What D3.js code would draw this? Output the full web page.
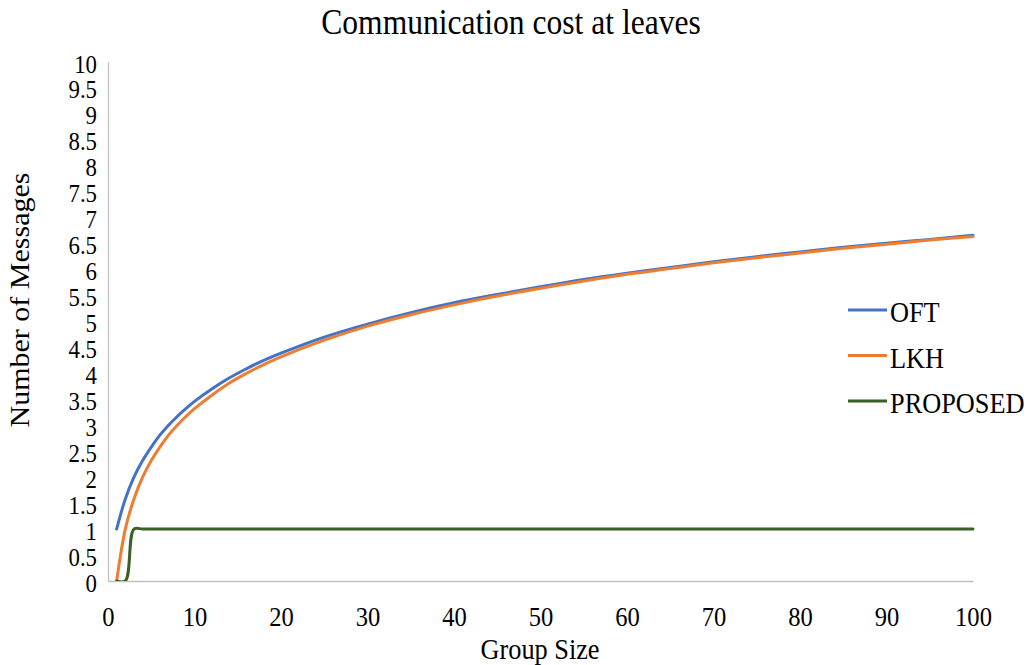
<!DOCTYPE html>
<html>
<head>
<meta charset="utf-8">
<script src="https://cdn.jsdelivr.net/npm/d3@7"></script>
<style>
  html, body { margin: 0; padding: 0; background: #fff; }
  svg text { font-family: "Liberation Serif", "Times New Roman", serif; fill: #000; }
</style>
</head>
<body>
<svg id="chart" width="1031" height="665"></svg>
<script>
// Group sizes sampled along each curve
const groupSizes = [1, 2, 3, 4, 5, 6, 7, 8, 9, 10, 12, 14, 16, 18, 20, 25, 30, 35, 40, 45, 50, 55, 60, 65, 70, 75, 80, 85, 90, 95, 100];

// Number of messages per scheme
const oftValues = [1.0, 1.58, 2.0, 2.32, 2.58, 2.81, 3.0, 3.17, 3.32, 3.46, 3.70, 3.91, 4.09, 4.25, 4.39, 4.70, 4.95, 5.17, 5.36, 5.52, 5.67, 5.81, 5.93, 6.04, 6.15, 6.25, 6.34, 6.43, 6.51, 6.58, 6.66];
const lkhValues = [0.0, 1.0, 1.58, 2.0, 2.32, 2.58, 2.81, 3.0, 3.17, 3.32, 3.58, 3.81, 4.0, 4.17, 4.32, 4.64, 4.91, 5.13, 5.32, 5.49, 5.64, 5.78, 5.91, 6.02, 6.13, 6.23, 6.32, 6.41, 6.49, 6.57, 6.64];
const proposedSizes = [1, 2, 3, 4, 5, 10, 20, 30, 40, 50, 60, 70, 80, 90, 100];
const proposedValues = [0, 0, 1, 1, 1, 1, 1, 1, 1, 1, 1, 1, 1, 1, 1];

const seriesNames = ["OFT", "LKH", "PROPOSED"];
const seriesColors = ["#4472C4", "#ED7D31", "#3A5F27"];

const xTicks = [0, 10, 20, 30, 40, 50, 60, 70, 80, 90, 100];
const yTicks = d3.range(0, 10.001, 0.5);

const svg = d3.select("#chart");
const plot = { left: 108, right: 973, top: 62, bottom: 581 };
const squeeze = 0.877; // narrow type, horizontal direction of the page

const x = d3.scaleLinear().domain([0, 100]).range([plot.left, plot.right]);
const y = d3.scaleLinear().domain([0, 10]).range([plot.bottom, plot.top]);

// Text helper: horizontal text is narrowed, vertical text is thinned
function label(g, px, py, txt, size, anchor, vertical) {
  const tf = `translate(${px},${py})` +
    (vertical ? ` rotate(-90) scale(1,${squeeze})` : ` scale(${squeeze},1)`);
  return g.append("text")
    .attr("transform", tf)
    .attr("text-anchor", anchor)
    .attr("dominant-baseline", "central")
    .style("font-size", size + "px")
    .text(txt);
}

// Title
label(svg, 511, 22, "Communication cost at leaves", 36, "middle");

// Axes
const xAxis = d3.axisBottom(x).tickValues(xTicks).tickSize(0).tickPadding(0).tickFormat(d3.format("d"));
const yAxis = d3.axisLeft(y).tickValues(yTicks).tickSize(0).tickPadding(0);

const gx = svg.append("g").attr("transform", `translate(0,${plot.bottom})`).call(xAxis);
const gy = svg.append("g").attr("transform", `translate(${plot.left},0)`).call(yAxis);

[gx, gy].forEach(g => {
  g.select(".domain").attr("stroke", "#bfbfbf").attr("stroke-width", 1.3);
  g.selectAll(".tick text").remove();
});

gx.selectAll(".tick").each(function(d) {
  label(d3.select(this), 0, 36, String(d), 28, "middle");
});
gy.selectAll(".tick").each(function(d) {
  label(d3.select(this), -11, 1, String(d), 26, "end");
});

// Axis titles
label(svg, 540, 649, "Group Size", 30, "middle");
label(svg, 20, 300, "Number of Messages", 30, "middle", true);

// Lines
svg.append("defs").append("clipPath").attr("id", "plotClip")
  .append("rect").attr("x", plot.left).attr("y", plot.top - 10)
  .attr("width", plot.right - plot.left + 5).attr("height", plot.bottom - plot.top + 10);

const line = d3.line()
  .x(d => x(d[0]))
  .y(d => y(d[1]))
  .curve(d3.curveCatmullRom.alpha(0.5));

const series = [
  { name: seriesNames[0], color: seriesColors[0], pts: d3.zip(groupSizes, oftValues) },
  { name: seriesNames[1], color: seriesColors[1], pts: d3.zip(groupSizes, lkhValues) },
  { name: seriesNames[2], color: seriesColors[2], pts: d3.zip(proposedSizes, proposedValues) }
];

const lines = svg.append("g").attr("clip-path", "url(#plotClip)");
series.forEach(s => {
  lines.append("path")
    .attr("d", line(s.pts))
    .attr("fill", "none")
    .attr("stroke", s.color)
    .attr("stroke-width", 3)
    .attr("stroke-linejoin", "round")
    .attr("stroke-linecap", "round");
});

// Legend
const legend = svg.append("g");
series.forEach((s, i) => {
  const ly = 310 + i * 45.5;
  legend.append("line")
    .attr("x1", 848).attr("x2", 887).attr("y1", ly).attr("y2", ly)
    .attr("stroke", s.color).attr("stroke-width", 3);
  label(legend, 890, ly + 2, s.name, 30, "start");
});
</script>
</body>
</html>
